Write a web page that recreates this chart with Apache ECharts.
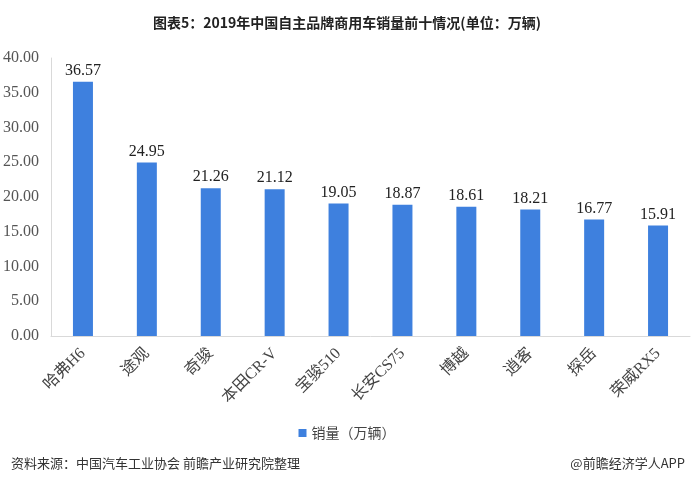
<!DOCTYPE html>
<html>
<head>
<meta charset="utf-8">
<script src="https://cdn.jsdelivr.net/npm/echarts@6/dist/echarts.min.js"></script>
<style>
  html, body { margin: 0; padding: 0; background: #fff; }
  #chart { width: 694px; height: 482px; }
</style>
</head>
<body>
<div id="chart"></div>
<script>
const categories = ['哈弗H6', '途观', '奇骏', '本田CR-V', '宝骏510', '长安CS75', '博越', '逍客', '探岳', '荣威RX5']
const sales = [36.57, 24.95, 21.26, 21.12, 19.05, 18.87, 18.61, 18.21, 16.77, 15.91]

const chart = echarts.init(document.getElementById('chart'))
const serif = '"Liberation Serif", "Times New Roman", "Noto Sans CJK SC", serif'

chart.setOption({
  animation: false,
  title: [
    {
      text: '图表5：2019年中国自主品牌商用车销量前十情况(单位：万辆)',
      left: 'center',
      top: 11,
      textStyle: { fontSize: 14, fontWeight: 'bold', color: '#222', fontFamily: '"Noto Sans CJK SC", sans-serif' }
    },
    {
      text: '资料来源：中国汽车工业协会 前瞻产业研究院整理',
      left: 6,
      top: 452,
      textStyle: { fontSize: 13, fontWeight: 'normal', color: '#333', fontFamily: '"Noto Sans CJK SC", sans-serif' }
    },
    {
      text: '@前瞻经济学人APP',
      right: 4,
      top: 452,
      textStyle: { fontSize: 13, fontWeight: 'normal', color: '#333', fontFamily: '"Noto Sans CJK SC", sans-serif' }
    }
  ],
  legend: {
    bottom: 37,
    left: 'center',
    itemWidth: 8,
    itemHeight: 8,
    itemGap: 4,
    icon: 'rect',
    textStyle: { fontSize: 14, color: '#444', fontFamily: '"Noto Sans CJK SC", sans-serif' }
  },
  grid: { left: 50, right: 4, top: 58, bottom: 146 },
  xAxis: {
    type: 'category',
    data: categories,
    axisLine: { lineStyle: { color: '#d9d9d9' } },
    axisTick: { show: false },
    axisLabel: {
      rotate: 45,
      interval: 0,
      fontSize: 16,
      color: '#444',
      margin: 15,
      fontFamily: serif
    }
  },
  yAxis: {
    type: 'value',
    min: 0,
    max: 40,
    interval: 5,
    axisLine: { show: true, lineStyle: { color: '#d9d9d9' } },
    axisTick: { show: false },
    splitLine: { show: false },
    axisLabel: {
      fontSize: 16,
      color: '#555',
      margin: 12,
      fontFamily: serif,
      formatter: v => v.toFixed(2)
    }
  },
  series: [
    {
      name: '销量（万辆）',
      type: 'bar',
      data: sales,
      barWidth: 20,
      itemStyle: { color: '#3e80de' },
      label: {
        show: true,
        position: 'top',
        fontSize: 16,
        color: '#222',
        distance: 3,
        fontFamily: serif,
        formatter: p => p.value.toFixed(2)
      }
    }
  ]
})
</script>
</body>
</html>
